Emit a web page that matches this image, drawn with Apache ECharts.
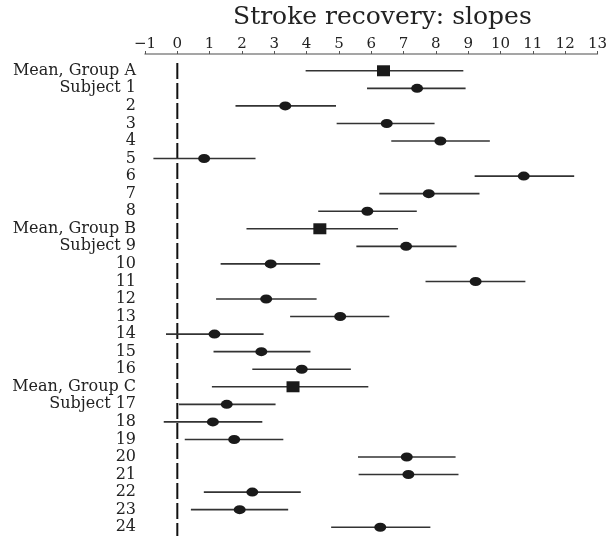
<!DOCTYPE html>
<html><head><meta charset="utf-8">
<script src="https://cdn.jsdelivr.net/npm/echarts@6/dist/echarts.min.js"></script>
<style>html,body{margin:0;padding:0;background:#fff}#c{width:610px;height:536px}</style>
</head><body><div id="c"></div>
<script>
var rowLabels = ["Mean, Group A","Subject 1","2","3","4","5","6","7","8",
  "Mean, Group B","Subject 9","10","11","12","13","14","15","16",
  "Mean, Group C","Subject 17","18","19","20","21","22","23","24"];
var estimates = [6.38,7.42,3.34,6.48,8.14,0.83,10.72,7.78,5.88,
  4.41,7.08,2.89,9.23,2.75,5.04,1.15,2.60,3.85,
  3.58,1.53,1.10,1.76,7.10,7.15,2.32,1.93,6.28];
var lowers = [3.97,5.87,1.80,4.93,6.62,-0.74,9.20,6.25,4.36,
  2.14,5.54,1.34,7.68,1.20,3.49,-0.35,1.12,2.32,
  1.07,0.05,-0.42,0.23,5.59,5.61,0.82,0.42,4.76];
var uppers = [8.85,8.92,4.91,7.96,9.67,2.42,12.28,9.35,7.41,
  6.83,8.64,4.42,10.77,4.31,6.56,2.67,4.12,5.37,
  5.91,3.04,2.63,3.28,8.61,8.70,3.82,3.43,7.83];
var isMean = [1,0,0,0,0,0,0,0,0, 1,0,0,0,0,0,0,0,0, 1,0,0,0,0,0,0,0,0];
var refValue = [0];

var FONT = "DejaVu Serif";
var chart = echarts.init(document.getElementById('c'));
var barData = rowLabels.map(function(l,i){return [i, lowers[i], uppers[i]];});
var ptData = rowLabels.map(function(l,i){
  return {value:[estimates[i], i],
    symbol: isMean[i] ? 'rect' : 'circle',
    symbolSize: isMean[i] ? [13,11] : [12,9]};
});
chart.setOption({
  animation:false,
  title:{text:"Stroke recovery: slopes", left:228, top:0,
    textStyle:{fontFamily:FONT,fontWeight:'normal',fontSize:25,color:'#222'}},
  grid:{left:145,right:8,top:62,height:474},
  xAxis:{type:'value',position:'top',min:-1,max:13,interval:1,offset:8,
    axisLine:{show:true,lineStyle:{color:'#888',width:1.5}},
    axisTick:{show:true,length:3,lineStyle:{color:'#555'}},
    splitLine:{show:false},
    axisLabel:{fontFamily:FONT,fontSize:15,color:'#222',margin:2,
      formatter:function(v){return v<0?'\u2212'+(-v):String(v);}}},
  yAxis:{type:'category',data:rowLabels,inverse:true,
    axisLine:{show:false},axisTick:{show:false},splitLine:{show:false},
    axisLabel:{fontFamily:FONT,fontSize:16,color:'#222',margin:9,interval:0}},
  series:[
    {type:'custom',data:refValue.map(function(v){return [v];}),
     encode:{x:0},z:1,
     renderItem:function(params,api){
       var cs=params.coordSys;
       var p=api.coord([api.value(0),0]);
       return {type:'line',shape:{x1:p[0],y1:cs.y+1,x2:p[0],y2:cs.y+cs.height},
         style:{stroke:'#111',lineWidth:2,lineDash:[16,4]}};
     }},
    {type:'custom',data:barData,encode:{y:0,x:[1,2]},z:2,
     renderItem:function(params,api){
       var a=api.coord([api.value(1),api.value(0)]);
       var b=api.coord([api.value(2),api.value(0)]);
       return {type:'line',shape:{x1:a[0],y1:a[1],x2:b[0],y2:b[1]},
         style:{stroke:'#333',lineWidth:1.6}};
     }},
    {type:'scatter',data:ptData,itemStyle:{color:'#1a1a1a',opacity:1},z:5}
  ]
});
</script></body></html>
